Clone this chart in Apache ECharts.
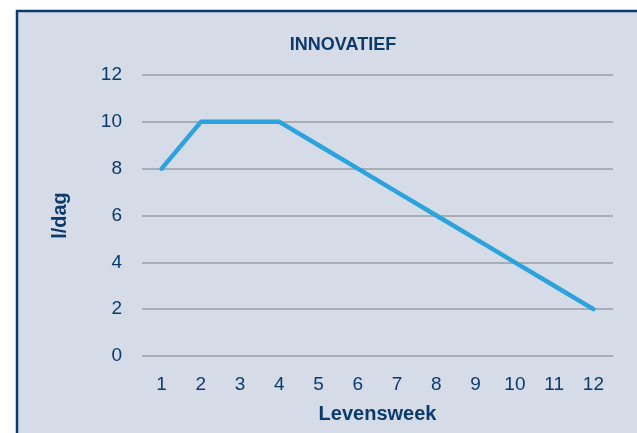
<!DOCTYPE html>
<html>
<head>
<meta charset="utf-8">
<script src="https://cdn.jsdelivr.net/npm/echarts@6/dist/echarts.min.js"></script>
<style>
html,body{margin:0;padding:0;background:#ffffff;}
#c{width:637px;height:433px;}
</style>
</head>
<body>
<div id="c"></div>
<script>
const categories = ['1','2','3','4','5','6','7','8','9','10','11','12'];
const values = [8, 10, 10, 10, 9, 8, 7, 6, 5, 4, 3, 2];
const titleText = 'INNOVATIEF';
const xName = 'Levensweek';
const yName = 'l/dag';

const navy = '#0d3a6d';
const chart = echarts.init(document.getElementById('c'));
chart.setOption({
  backgroundColor: '#ffffff',
  animation: false,
  graphic: [{
    type: 'rect',
    z: -10,
    silent: true,
    shape: { x: 17, y: 11, width: 640, height: 440 },
    style: { fill: '#d5dbe7', stroke: navy, lineWidth: 2.5 }
  }],
  title: {
    text: titleText,
    left: 338, top: 31, textAlign: 'center',
    textStyle: { fontFamily: 'Liberation Sans', fontSize: 18, fontWeight: 'bold', color: navy }
  },
  grid: { left: 142, right: 24, top: 75, bottom: 77, containLabel: false },
  xAxis: {
    type: 'category',
    data: categories,
    boundaryGap: true,
    axisLine: { show: false },
    axisTick: { show: false },
    axisLabel: { color: navy, fontFamily: 'Liberation Sans', fontSize: 19, margin: 19 },
    name: xName,
    nameLocation: 'middle',
    nameGap: 48,
    nameTextStyle: { color: navy, fontFamily: 'Liberation Sans', fontSize: 20, fontWeight: 'bold' }
  },
  yAxis: {
    type: 'value',
    min: 0, max: 12, interval: 2,
    axisLine: { show: false },
    axisTick: { show: false },
    axisLabel: { color: navy, fontFamily: 'Liberation Sans', fontSize: 19, margin: 20 },
    splitLine: { lineStyle: { color: '#9a9ca0', width: 1.5 } },
    name: yName,
    nameLocation: 'middle',
    nameRotate: 90,
    nameGap: 72,
    nameTextStyle: { color: navy, fontFamily: 'Liberation Sans', fontSize: 20, fontWeight: 'bold' }
  },
  series: [{
    type: 'line',
    data: values,
    symbol: 'none',
    lineStyle: { color: '#2ba4de', width: 4.5, cap: 'round' }
  }]
});
</script>
</body>
</html>
